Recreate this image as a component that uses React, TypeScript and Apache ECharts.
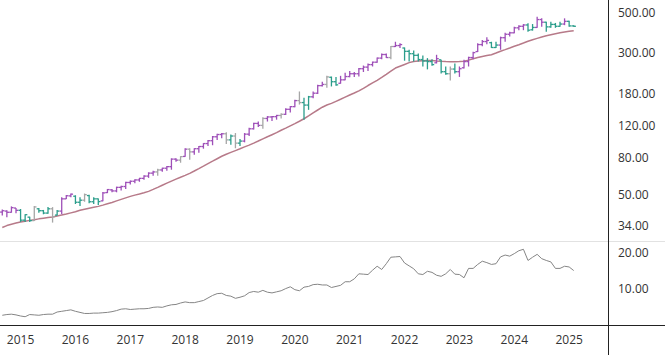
import { useEffect, useRef } from "react";
import * as echarts from "echarts";

// Monthly bars, Sep 2014 .. Feb 2025, axis padded to Sep 2025
const startYear = 2014;
const startMonth = 9;
const slotCount = 133;
const months: string[] = Array.from({ length: slotCount }, (_, i) => {
  const m = startMonth - 1 + i;
  const y = startYear + Math.floor(m / 12);
  return `${y}-${String((m % 12) + 1).padStart(2, "0")}`;
});

const opens = [40.3,40.8,40.2,42.4,41.2,36.4,37.8,36.2,42.0,41.0, 39.8,42.0,38.8,40.8,47.6,49.4,49.2,45.6,46.8,49.6, 45.9,47.6,46.4,51.5,53.3,52.6,55.0,55.6,58.5,59.4, 60.4,61.6,63.4,65.8,66.8,68.5,70.0,71.4,78.5,77.5, 81.2,89.0,86.0,89.5,92.0,95.5,99.0,104.0,107.0,108.0, 100.0,105.0,96.0,98.5,107.5,115.0,123.0,120.0,131.0,133.5, 134.0,136.0,138.0,147.0,152.0,164.0,160.0,155.0,172.0,180.0, 198.0,201.0,220.0,208.0,204.0,213.0,222.0,230.0,230.0,245.0, 250.0,258.0,266.0,280.0,293.0,282.0,324.0,328.0,318.0,305.0, 296.0,290.0,275.0,270.0,268.0,264.0,274.0,236.0,230.0,244.0, 236.0,248.0,268.0,282.0,304.0,332.0,345.0,340.0,320.0,330.0, 362.0,378.0,385.0,410.0,418.0,425.0,400.0,412.0,455.0,440.0, 415.0,428.0,418.0,430.0,445.0,420.0];
const highs = [41.6,41.2,43.3,42.4,41.9,39.2,38.0,43.5,42.4,41.4, 42.9,42.9,41.4,48.5,50.0,50.9,49.8,48.5,50.9,50.2, 48.5,47.8,51.9,53.9,53.9,55.5,56.2,59.0,60.0,60.9, 62.0,64.0,66.5,67.8,69.6,70.5,71.9,79.3,79.3,81.5, 90.0,90.0,90.0,92.7,96.0,100.0,105.0,108.0,109.0,110.0, 107.0,109.0,101.0,109.0,116.5,124.0,126.0,133.0,135.0,135.0, 137.0,140.0,149.0,153.0,166.0,184.0,170.0,174.0,184.0,200.0, 208.0,224.0,222.0,221.0,224.0,233.0,238.0,235.0,247.0,255.0, 262.0,268.0,282.0,297.0,297.0,326.0,344.0,338.0,320.0,311.0, 308.0,297.0,289.0,280.0,276.0,292.0,274.0,252.0,252.0,262.0, 252.0,274.0,285.0,303.0,338.0,352.0,364.0,344.0,344.0,367.0, 385.0,390.0,415.0,424.0,430.0,434.0,430.0,472.0,462.0,442.0, 442.0,436.0,442.0,462.0,448.0,424.0];
const lows = [38.6,37.8,40.0,39.7,35.6,35.6,35.6,36.0,40.0,39.2, 39.5,35.3,38.6,39.2,47.5,48.5,44.6,43.5,45.9,45.0, 44.6,44.0,46.2,51.2,51.7,51.7,52.8,53.9,57.0,58.0, 59.0,60.6,62.0,63.6,63.6,67.0,67.8,68.7,76.0,75.0, 81.0,77.8,83.0,85.0,89.5,92.7,93.5,100.0,102.0,95.0, 94.0,90.0,92.7,97.0,105.0,114.0,117.5,115.0,126.0,127.0, 129.0,131.0,137.0,141.0,151.0,156.0,129.0,146.0,169.0,178.0, 196.0,193.0,196.0,198.0,203.0,212.0,220.0,221.0,222.0,235.0, 238.0,252.0,264.0,276.0,280.0,276.0,322.0,318.0,271.0,268.0, 268.0,268.0,252.0,243.0,254.0,262.0,231.0,227.0,211.0,231.0, 221.0,246.0,252.0,276.0,302.0,325.0,333.0,318.0,318.0,311.0, 344.0,367.0,383.0,398.0,398.0,390.0,396.0,410.0,415.0,390.0, 410.0,410.0,415.0,424.0,415.0,415.0];
const closes = [41.0,40.2,42.6,41.2,36.4,39.0,36.2,43.0,41.0,39.8, 42.0,38.0,40.8,47.6,49.5,50.5,45.6,46.8,50.2,45.9, 47.6,46.0,51.3,53.5,52.6,55.0,55.6,58.5,59.4,60.4, 61.6,63.4,65.8,66.8,68.5,70.0,71.4,78.5,77.5,81.0, 89.0,86.0,89.5,92.0,95.5,99.0,104.0,107.0,108.0,100.0, 105.0,96.0,98.5,107.5,115.0,123.0,120.0,131.0,133.5,134.0, 136.0,138.0,147.0,152.0,164.0,160.0,155.0,172.0,180.0,198.0, 201.0,221.0,208.0,200.0,213.0,222.0,230.0,230.0,245.0,250.0, 258.0,266.0,280.0,293.0,282.0,324.0,328.0,332.0,305.0,296.0, 290.0,275.0,270.0,268.0,258.0,278.0,236.0,230.0,244.0,236.0, 245.0,268.0,282.0,300.0,332.0,345.0,350.0,320.0,330.0,362.0, 378.0,385.0,410.0,418.0,425.0,398.0,412.0,455.0,440.0,415.0, 428.0,418.0,430.0,445.0,420.0,418.0];
// bar tone: u = rising (purple), d = falling (teal), n = neutral (grey)
const barTones = ("uuuudddndd" + "dnduuuddnd" + "dduuuuuuuu" + "uuuunuuuun" + "unuuuuuuun" +
  "dnduuuunuu" + "unuuundduu" + "undduuuuuu" + "uuuuunuudd" + "ddddduddnd" +
  "uuuuuuuddu" + "uuuuudduud" + "dddudd").split("");
const movingAvg = [33.2,34.0,34.6,35.1,35.6,35.9,36.3,36.6,37.0,37.3, 37.6,37.9,38.4,38.8,39.3,39.9,40.5,41.2,41.8,42.3, 42.8,43.3,44.0,44.8,45.5,46.4,47.3,48.2,49.1,49.9, 50.6,51.4,52.3,53.6,55.0,56.5,58.0,59.5,61.0,62.5, 64.0,65.6,67.6,69.7,71.9,74.2,76.5,78.9,81.4,83.4, 85.4,87.4,89.4,91.6,93.6,96.0,98.6,101.3,104.0,106.7, 109.5,112.9,116.0,119.4,122.8,126.5,130.5,135.3,140.6,145.7, 150.9,155.2,158.3,162.5,166.8,171.3,175.9,180.5,185.3,191.5, 198.3,204.9,211.7,219.5,228.3,237.9,247.1,252.8,258.6,264.5, 268.6,270.0,271.0,272.0,271.5,270.0,268.8,268.0,267.5,267.5, 268.0,269.5,273.0,278.0,282.0,285.5,289.0,292.0,298.5,305.5, 311.5,318.0,325.0,331.5,338.5,346.0,353.0,359.0,365.0,371.0, 376.0,380.5,385.0,389.0,392.5,395.0];
const lowerValues = [2.7,2.9,3.0,2.8,2.5,2.3,2.9,2.8,2.7,2.9, 3.0,3.0,3.6,3.8,4.0,4.2,3.8,3.5,3.2,3.2, 3.3,3.3,3.4,3.5,3.7,4.0,4.4,4.5,4.3,4.4, 4.5,4.5,4.6,4.9,5.0,4.9,5.3,5.6,5.7,6.1, 6.4,6.2,6.2,6.5,6.8,7.5,8.2,8.7,8.8,8.2, 8.0,7.4,7.7,8.1,9.0,9.3,9.1,9.6,9.1,8.9, 9.2,9.5,10.1,10.6,9.8,9.5,10.5,10.7,11.2,11.3, 11.1,11.1,10.4,10.7,11.0,12.0,12.0,12.8,14.2,14.1, 14.0,15.2,16.3,15.4,17.0,18.8,18.9,19.0,17.2,16.4, 15.6,14.2,14.0,14.9,14.6,13.8,13.5,14.2,15.4,14.1, 14.0,13.1,15.7,15.7,16.8,17.7,17.3,16.8,17.0,18.9, 19.4,19.1,19.8,20.6,21.0,17.9,18.8,19.6,18.4,17.9, 17.5,15.7,15.7,16.3,16.1,15.1];

const priceTicks = [34, 50, 80, 120, 180, 300, 500];
const lowerTicks = [10, 20];

const TONE: Record<string, string> = { u: "#9e4fb8", d: "#2b9d8b", n: "#a6a6a6" };
const LABEL_FONT = "'Open Sans', 'Noto Sans', sans-serif";

export default function App() {
  const ref = useRef<HTMLDivElement>(null);
  useEffect(() => {
    if (!ref.current) return;
    const chart = echarts.init(ref.current, null, { renderer: "svg" });
    const ohlc = opens.map((o, i) => [i, o, highs[i], lows[i], closes[i]]);
    const hidden = { show: false };
    chart.setOption({
      animation: false,
      backgroundColor: "#ffffff",
      grid: [
        { left: 0, top: 0, width: 608, height: 241 },
        { left: 0, top: 241, width: 608, height: 84 },
      ],
      xAxis: [
        {
          type: "category", gridIndex: 0, data: months, boundaryGap: true,
          axisLine: hidden, axisTick: hidden, axisLabel: hidden, splitLine: hidden,
        },
        {
          type: "category", gridIndex: 1, data: months, boundaryGap: true,
          axisLine: hidden, axisTick: hidden, splitLine: hidden,
          axisLabel: {
            interval: (_i: number, v: string) => v.endsWith("-01"),
            formatter: (v: string) => v.slice(0, 4),
            color: "#333", fontSize: 12, fontFamily: LABEL_FONT, margin: 8,
          },
        },
      ],
      yAxis: [
        {
          type: "log", logBase: 10, gridIndex: 0, position: "right", min: 28, max: 582,
          axisLine: hidden, axisTick: hidden, splitLine: hidden,
          axisLabel: {
            customValues: priceTicks,
            formatter: (v: number) => Number(v).toFixed(2),
            color: "#333", fontSize: 12, fontFamily: LABEL_FONT, margin: 10,
          },
        },
        {
          type: "value", gridIndex: 1, position: "right", min: 0, max: 23.3,
          axisLine: hidden, axisTick: hidden, splitLine: hidden,
          axisLabel: {
            customValues: lowerTicks,
            formatter: (v: number) => Number(v).toFixed(2),
            color: "#333", fontSize: 12, fontFamily: LABEL_FONT, margin: 10,
          },
        },
      ],
      series: [
        {
          type: "custom", xAxisIndex: 0, yAxisIndex: 0,
          data: ohlc,
          encode: { x: 0, y: [1, 2, 3, 4] },
          renderItem: (params: any, api: any) => {
            const i = api.value(0);
            const hi = api.coord([i, api.value(2)]);
            const lo = api.coord([i, api.value(3)]);
            const op = api.coord([i, api.value(1)]);
            const cl = api.coord([i, api.value(4)]);
            const color = TONE[barTones[params.dataIndex]] || TONE.n;
            const x = hi[0];
            const style = { stroke: color, lineWidth: 1.3 };
            return {
              type: "group",
              children: [
                { type: "line", shape: { x1: x, y1: hi[1], x2: x, y2: lo[1] }, style },
                { type: "line", shape: { x1: x - 2.2, y1: op[1], x2: x, y2: op[1] }, style },
                { type: "line", shape: { x1: x, y1: cl[1], x2: x + 2.2, y2: cl[1] }, style },
              ],
            };
          },
          z: 3,
        },
        {
          type: "line", xAxisIndex: 0, yAxisIndex: 0, data: movingAvg,
          showSymbol: false, symbol: "none",
          lineStyle: { color: "#b77a89", width: 1.5 },
          z: 2,
        },
        {
          type: "line", xAxisIndex: 1, yAxisIndex: 1, data: lowerValues,
          showSymbol: false, symbol: "none",
          lineStyle: { color: "#858585", width: 1 },
        },
      ],
      graphic: [
        { type: "line", z: 10, shape: { x1: 0, y1: 241.5, x2: 665, y2: 241.5 }, style: { stroke: "#e2e2e2", lineWidth: 1 } },
        { type: "line", z: 10, shape: { x1: 608.5, y1: 0, x2: 608.5, y2: 355 }, style: { stroke: "#222", lineWidth: 1 } },
        { type: "line", z: 10, shape: { x1: 0, y1: 325.5, x2: 665, y2: 325.5 }, style: { stroke: "#222", lineWidth: 1 } },
      ],
    });
    return () => chart.dispose();
  }, []);
  return <div ref={ref} style={{ position: "fixed", left: 0, top: 0, width: 665, height: 355 }} />;
}
